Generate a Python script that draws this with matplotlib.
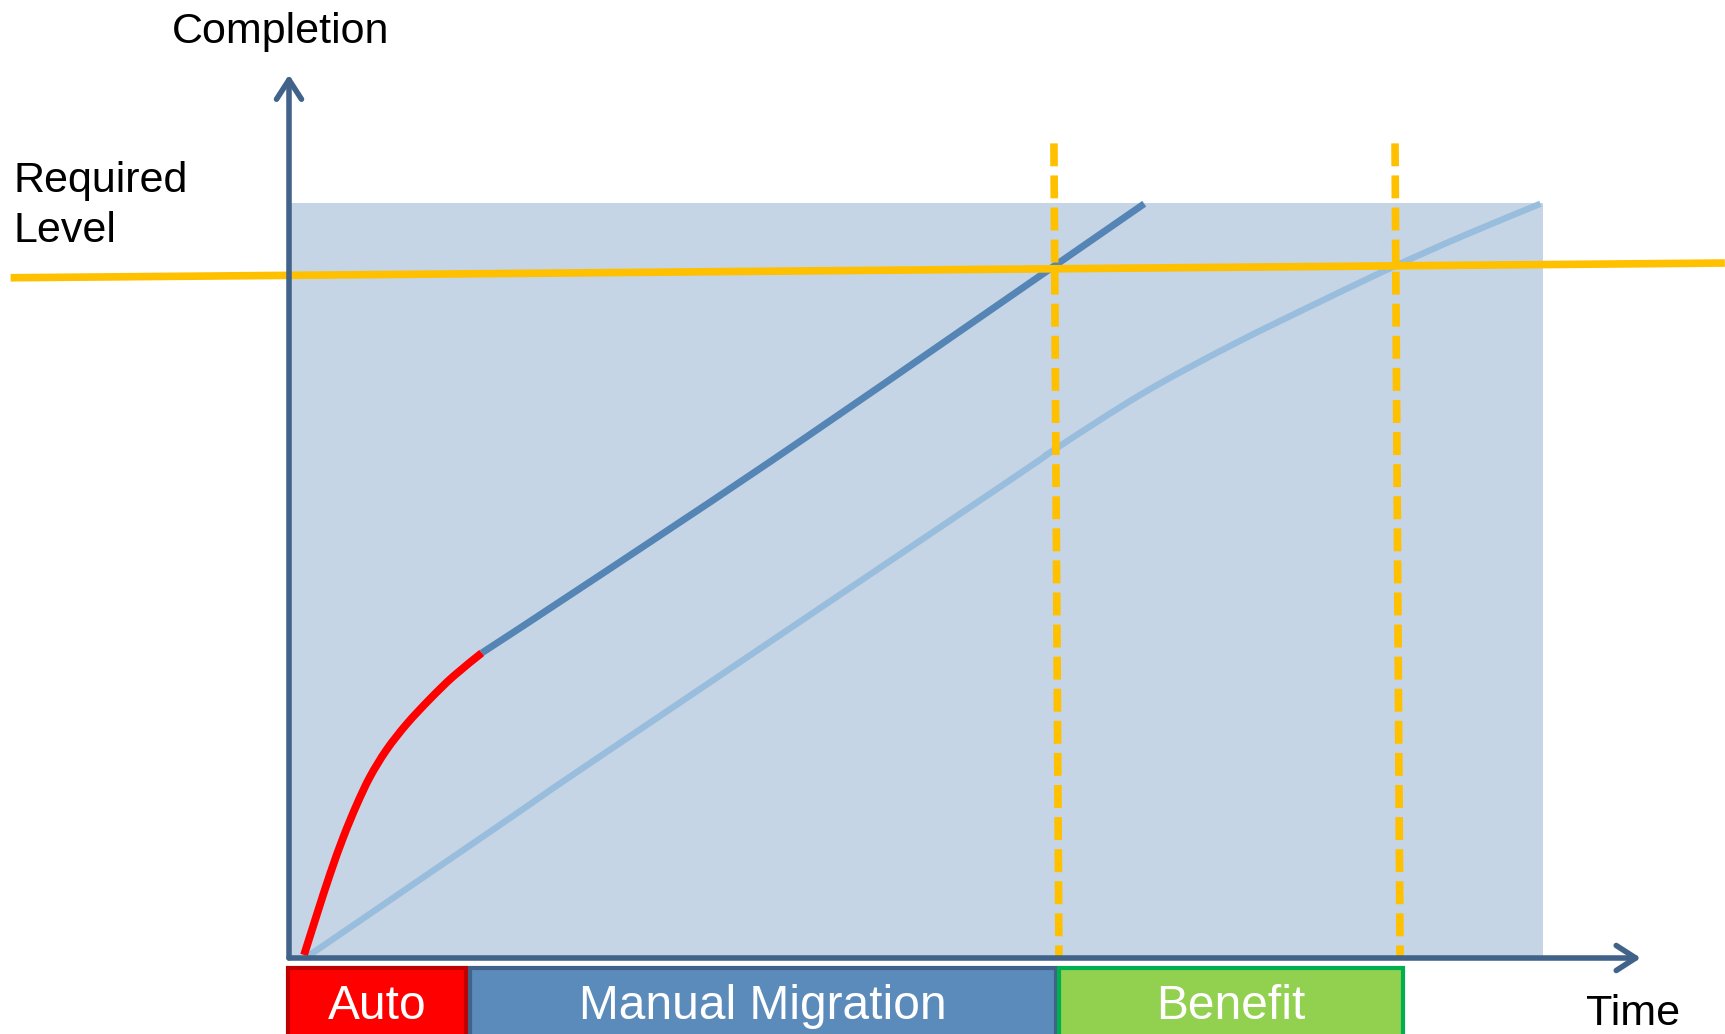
import numpy as np
import matplotlib.pyplot as plt
from matplotlib.patches import Rectangle, FancyArrowPatch, PathPatch
from matplotlib.path import Path

plt.rcParams['font.family'] = ['Liberation Sans', 'DejaVu Sans']

# time (0-100) vs completion (0-100)
auto_t = [1.2, 2.21, 3.27, 4.33, 5.40, 6.46, 7.79, 9.39, 11.24, 13.10, 15.37]
auto_c = [0.4, 5.7, 11.1, 16.0, 20.3, 24.0, 27.6, 31.0, 34.3, 37.3, 40.4]

manual_t = [15.37, 24.8, 40.9, 68.2]
manual_c = [40.4, 50.7, 68.6, 99.9]

slow_t = [1.3, 16.8, 24.8, 56.7, 61.0, 68.1, 75.2, 82.3, 88.0, 93.7, 99.8]
slow_c = [0.0, 17.6, 26.7, 62.4, 67.3, 74.8, 81.2, 87.0, 91.5, 95.7, 99.9]

level_t = [-22.2, 114.5]
level_c = [90.1, 92.05]

cross_t = [(61.0, 61.4), (88.2, 88.6)]
cross_c = (107.9, 0.0)

phases = ['Auto', 'Manual Migration', 'Benefit']
phase_start = [-0.1, 14.4, 61.4]
phase_end = [14.1, 61.2, 88.8]
phase_fill = ['#FF0000', '#5B8BBB', '#92D050']
phase_edge = ['#C00000', '#41638A', '#00B050']

axis_col = '#41638A'


def smooth_curve(xs, ys):
    # bezier through the points (catmull-rom handles)
    p = np.column_stack([xs, ys]).astype(float)
    verts = [p[0]]
    codes = [Path.MOVETO]
    n = len(p)
    for i in range(n - 1):
        p0 = p[i - 1] if i > 0 else p[i]
        p1, p2 = p[i], p[i + 1]
        p3 = p[i + 2] if i + 2 < n else p[i + 1]
        verts += [p1 + (p2 - p0) / 6, p2 - (p3 - p1) / 6, p2]
        codes += [Path.CURVE4] * 3
    return Path(verts, codes)


fig = plt.figure(figsize=(17.25, 10.34), dpi=100, facecolor='white')
ax = fig.add_axes([289 / 1725, 76 / 1034, 1254 / 1725, 755 / 1034])
ax.set_xlim(0, 100)
ax.set_ylim(0, 100)
ax.axis('off')

# shaded area
ax.add_patch(Rectangle((0, 0), 100, 100, facecolor='#C5D5E5', edgecolor='none', zorder=0))

# curves
ax.add_patch(PathPatch(smooth_curve(slow_t, slow_c), fill=False, edgecolor='#98BDDD', lw=4.6,
                       capstyle='butt', joinstyle='round', zorder=2, clip_on=False))
ax.add_patch(PathPatch(smooth_curve(manual_t, manual_c), fill=False, edgecolor='#5585B5', lw=5,
                       capstyle='butt', joinstyle='round', zorder=3, clip_on=False))
ax.add_patch(PathPatch(smooth_curve(auto_t, auto_c), fill=False, edgecolor='#FF0000', lw=5.6,
                       capstyle='butt', joinstyle='round', zorder=4, clip_on=False))

# required level and crossing markers
ax.plot(level_t, level_c, color='#FFC000', lw=5.5, solid_capstyle='butt', zorder=5, clip_on=False)
for xs in cross_t:
    ax.plot(xs, cross_c, color='#FFC000', lw=5.5, dashes=(3, 1.2), zorder=5, clip_on=False)

# axes with arrows
for start, end in [((0, 0), (0, 117)), ((0, 0), (107.8, 0))]:
    ax.add_patch(FancyArrowPatch(start, end, arrowstyle='->,head_length=0.7,head_width=0.45',
                                 mutation_scale=20, color=axis_col, lw=4,
                                 capstyle='round', joinstyle='round',
                                 shrinkA=0, shrinkB=0, zorder=6, clip_on=False))

# phase boxes
for name, s, e, fc, ec in zip(phases, phase_start, phase_end, phase_fill, phase_edge):
    ax.add_patch(Rectangle((s, -11), e - s, 9.7, facecolor=fc, edgecolor=ec, lw=3,
                           zorder=6, clip_on=False))
    ax.text((s + e) / 2, -6.4, name, color='white', fontsize=34.5, ha='center', va='center',
            clip_on=False, zorder=7)

ax.text(-0.7, 122.7, 'Completion', fontsize=31, ha='center', va='center', clip_on=False)
ax.text(-22.0, 99.6, 'Required\nLevel', fontsize=31, ha='left', va='center',
        linespacing=1.3, clip_on=False)
ax.text(107.2, -7.4, 'Time', fontsize=31, ha='center', va='center', clip_on=False)

fig.savefig('out.png', dpi=100, facecolor='white')
